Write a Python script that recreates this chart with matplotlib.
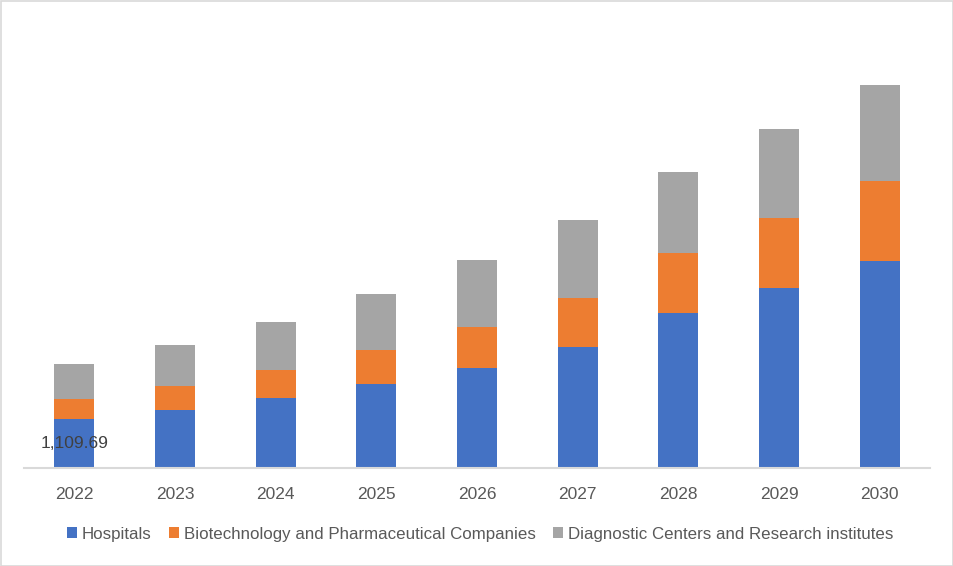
import matplotlib.pyplot as plt
from matplotlib.patches import Rectangle

years = ['2022', '2023', '2024', '2025', '2026', '2027', '2028', '2029', '2030']
hospitals = [1109.69, 1322, 1595, 1907, 2279, 2751, 3526, 4102, 4717]
biotech = [456, 547, 638, 782, 928, 1124, 1367, 1595, 1816]
diagnostic = [798, 928, 1087, 1269, 1527, 1771, 1846, 2021, 2188]

names = ['Hospitals', 'Biotechnology and Pharmaceutical Companies',
         'Diagnostic Centers and Research institutes']
colors = ['#4472C4', '#ED7D31', '#A5A5A5']

plt.rcParams['font.family'] = ['Liberation Sans', 'DejaVu Sans']

fig = plt.figure(figsize=(9.54, 5.66), dpi=100)
ax = fig.add_axes([24 / 954, 98.3 / 566, 906 / 954, 447.7 / 566])

x = list(range(len(years)))
w = 0.4
b1 = ax.bar(x, hospitals, w, color=colors[0], label=names[0])
bottom2 = hospitals
b2 = ax.bar(x, biotech, w, bottom=bottom2, color=colors[1], label=names[1])
bottom3 = [h + b for h, b in zip(hospitals, biotech)]
b3 = ax.bar(x, diagnostic, w, bottom=bottom3, color=colors[2], label=names[2])

# only the first value is labelled
ax.text(x[0], hospitals[0] / 2, '{:,.2f}'.format(hospitals[0]),
        ha='center', va='center', fontsize=12.5, color='#404040')

ax.set_xlim(-0.5, len(years) - 0.5)
ax.set_ylim(0, 10200)
ax.set_xticks(x)
ax.set_xticklabels(years, fontsize=12.5, color='#595959')
ax.tick_params(axis='x', length=0, pad=14)
ax.set_yticks([])
for s in ['top', 'right', 'left']:
    ax.spines[s].set_visible(False)
ax.spines['bottom'].set_color('#D9D9D9')
ax.spines['bottom'].set_linewidth(1.5)

leg = fig.legend(handles=[b1, b2, b3], loc='center', bbox_to_anchor=(480 / 954, 1 - 534 / 566),
                 ncol=3, frameon=False, fontsize=12.2, handlelength=0.6, handleheight=0.6,
                 handletextpad=0.3, columnspacing=1.0)
for t in leg.get_texts():
    t.set_color('#595959')

# chart border
fig.patches.append(Rectangle((0.5 / 954, 0.5 / 566), 1 - 1.5 / 954, 1 - 1.5 / 566,
                             transform=fig.transFigure, fill=False,
                             edgecolor='#D9D9D9', linewidth=1.2))

fig.savefig('out.png', dpi=100)
